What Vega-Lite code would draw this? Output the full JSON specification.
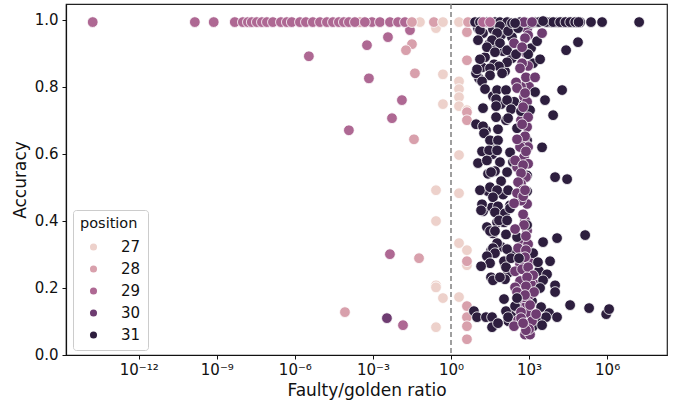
{"$schema":"https://vega.github.io/schema/vega-lite/v6.json","width":601,"height":351,"autosize":{"type":"none"},"padding":{"left":66,"top":4,"right":11,"bottom":47},"background":"white","config":{"view":{"stroke":"#222","strokeWidth":1.2},"font":"DejaVu Sans"},"layer":[{"data":{"name":"pts"},"mark":{"type":"point","filled":true,"opacity":1,"stroke":"white","strokeWidth":0.8,"clip":true},"encoding":{"x":{"field":"ratio","type":"quantitative","scale":{"type":"log","domain":[1.6e-15,2e8],"nice":false},"axis":{"title":"Faulty/golden ratio","titleFont":"DejaVu Sans","titleFontSize":17,"titleFontWeight":"normal","titleColor":"#111","titlePadding":5,"labelFont":"DejaVu Sans","labelFontSize":15,"labelColor":"#111","grid":false,"values":[1e-12,1e-9,1e-6,1e-3,1,1e3,1e6],"labelExpr":"{'-12':'10⁻¹²','-9':'10⁻⁹','-6':'10⁻⁶','-3':'10⁻³','0':'10⁰','3':'10³','6':'10⁶'}[''+round(log(datum.value)/LN10)]","tickColor":"#111","tickSize":4,"domainColor":"#111","domainWidth":1.2,"labelPadding":3}},"y":{"field":"accuracy","type":"quantitative","scale":{"domain":[-0.001,1.047],"nice":false,"zero":false},"axis":{"title":"Accuracy","titleFont":"DejaVu Sans","titleFontSize":17,"titleFontWeight":"normal","titleColor":"#111","titlePadding":5,"labelFont":"DejaVu Sans","labelFontSize":15,"labelColor":"#111","grid":false,"values":[0,0.2,0.4,0.6,0.8,1],"format":".1f","tickColor":"#111","tickSize":4,"domainColor":"#111","domainWidth":1.2,"labelPadding":4}},"color":{"field":"position","type":"ordinal","scale":{"domain":[27,28,29,30,31],"range":["#edd1cb","#d8a0ac","#ae6893","#6e3c71","#2d1e3e"]},"legend":{"title":"position","orient":"none","legendX":7,"legendY":206,"fillColor":"white","strokeColor":"#ccc","cornerRadius":3,"padding":7,"titleFont":"DejaVu Sans","titleFontSize":14.5,"titleFontWeight":"normal","titleColor":"#111","titlePadding":8,"labelFont":"DejaVu Sans","labelFontSize":15,"labelColor":"#111","symbolType":"circle","symbolSize":50,"symbolStrokeWidth":0,"symbolOpacity":1,"rowPadding":6,"labelOffset":20,"symbolOffset":6}},"size":{"value":115},"order":{"field":"draw","type":"quantitative"}}},{"data":{"values":[{"ratio":1}]},"mark":{"type":"rule","color":"#808080","strokeWidth":1.5,"strokeDash":[5,3]},"encoding":{"x":{"field":"ratio","type":"quantitative"}}}],"datasets":{"pts":[
{"ratio":0.265,"accuracy":0.975,"position":27,"draw":1},{"ratio":0.49,"accuracy":0.837,"position":27,"draw":1},{"ratio":2.03,"accuracy":0.816,"position":27,"draw":1},{"ratio":2.03,"accuracy":0.793,"position":27,"draw":1},{"ratio":2.03,"accuracy":0.769,"position":27,"draw":1},{"ratio":2.03,"accuracy":0.742,"position":27,"draw":1},{"ratio":0.49,"accuracy":0.748,"position":27,"draw":1},{"ratio":4.1,"accuracy":0.73,"position":27,"draw":1},{"ratio":2.03,"accuracy":0.596,"position":27,"draw":1},{"ratio":0.265,"accuracy":0.491,"position":27,"draw":1},{"ratio":2.03,"accuracy":0.482,"position":27,"draw":1},{"ratio":0.265,"accuracy":0.399,"position":27,"draw":1},{"ratio":2.03,"accuracy":0.333,"position":27,"draw":1},{"ratio":4.1,"accuracy":0.312,"position":27,"draw":1},{"ratio":4.1,"accuracy":0.267,"position":27,"draw":1},{"ratio":0.265,"accuracy":0.207,"position":27,"draw":1},{"ratio":0.265,"accuracy":0.201,"position":27,"draw":1},{"ratio":0.49,"accuracy":0.169,"position":27,"draw":1},{"ratio":2.03,"accuracy":0.172,"position":27,"draw":1},{"ratio":0.265,"accuracy":0.082,"position":27,"draw":1},
{"ratio":0.064,"accuracy":0.993,"position":27,"draw":1},{"ratio":0.49,"accuracy":0.993,"position":27,"draw":3},{"ratio":2.03,"accuracy":0.993,"position":27,"draw":3},
{"ratio":0.000316,"accuracy":0.993,"position":28,"draw":2},{"ratio":0.0316,"accuracy":0.993,"position":28,"draw":3},{"ratio":0.22,"accuracy":0.993,"position":28,"draw":2},{"ratio":4.5,"accuracy":0.993,"position":28,"draw":3},
{"ratio":0.0316,"accuracy":0.927,"position":28,"draw":2},{"ratio":0.0186,"accuracy":0.909,"position":28,"draw":2},{"ratio":0.041,"accuracy":0.84,"position":28,"draw":2},{"ratio":0.0378,"accuracy":0.643,"position":28,"draw":2},{"ratio":4.1,"accuracy":0.963,"position":28,"draw":2},{"ratio":4.1,"accuracy":0.879,"position":28,"draw":2},{"ratio":4.1,"accuracy":0.724,"position":28,"draw":2},{"ratio":4.1,"accuracy":0.7,"position":28,"draw":2},{"ratio":0.059,"accuracy":0.288,"position":28,"draw":2},{"ratio":4.1,"accuracy":0.279,"position":28,"draw":2},{"ratio":4.1,"accuracy":0.145,"position":28,"draw":2},{"ratio":4.1,"accuracy":0.112,"position":28,"draw":2},{"ratio":4.1,"accuracy":0.085,"position":28,"draw":2},{"ratio":4.1,"accuracy":0.046,"position":28,"draw":2},{"ratio":0.000084,"accuracy":0.127,"position":28,"draw":2},
{"ratio":1.7e-14,"accuracy":0.993,"position":29,"draw":2},{"ratio":1.43e-10,"accuracy":0.993,"position":29,"draw":2},{"ratio":7.6e-10,"accuracy":0.993,"position":29,"draw":2},{"ratio":4.9e-9,"accuracy":0.993,"position":29,"draw":2},{"ratio":1e-8,"accuracy":0.993,"position":29,"draw":2},{"ratio":1.56e-8,"accuracy":0.993,"position":29,"draw":2},{"ratio":2.2e-8,"accuracy":0.993,"position":29,"draw":2},{"ratio":3.45e-8,"accuracy":0.993,"position":29,"draw":2},{"ratio":5.4e-8,"accuracy":0.993,"position":29,"draw":2},{"ratio":8.4e-8,"accuracy":0.993,"position":29,"draw":2},{"ratio":1.43e-7,"accuracy":0.993,"position":29,"draw":2},{"ratio":2.9e-7,"accuracy":0.993,"position":29,"draw":2},{"ratio":4.9e-7,"accuracy":0.993,"position":29,"draw":2},{"ratio":7.6e-7,"accuracy":0.993,"position":29,"draw":2},{"ratio":1.56e-6,"accuracy":0.993,"position":29,"draw":2},{"ratio":2.65e-6,"accuracy":0.993,"position":29,"draw":2},{"ratio":4.9e-6,"accuracy":0.993,"position":29,"draw":2},{"ratio":9.2e-6,"accuracy":0.993,"position":29,"draw":2},{"ratio":1.7e-5,"accuracy":0.993,"position":29,"draw":2},{"ratio":2.9e-5,"accuracy":0.993,"position":29,"draw":2},{"ratio":4.9e-5,"accuracy":0.993,"position":29,"draw":2},{"ratio":7.6e-5,"accuracy":0.993,"position":29,"draw":2},{"ratio":0.000119,"accuracy":0.993,"position":29,"draw":2},{"ratio":0.000203,"accuracy":0.993,"position":29,"draw":2},{"ratio":0.00049,"accuracy":0.993,"position":29,"draw":3},{"ratio":0.00092,"accuracy":0.993,"position":29,"draw":2},{"ratio":0.00186,"accuracy":0.993,"position":29,"draw":2},{"ratio":0.0045,"accuracy":0.993,"position":29,"draw":2},{"ratio":0.0092,"accuracy":0.993,"position":29,"draw":2},{"ratio":0.017,"accuracy":0.993,"position":29,"draw":2},{"ratio":17,"accuracy":0.993,"position":29,"draw":6},{"ratio":31.6,"accuracy":0.993,"position":29,"draw":6},
{"ratio":3.45e-6,"accuracy":0.891,"position":29,"draw":2},{"ratio":0.000119,"accuracy":0.67,"position":29,"draw":2},{"ratio":0.00059,"accuracy":0.924,"position":29,"draw":2},{"ratio":0.0007,"accuracy":0.825,"position":29,"draw":2},{"ratio":0.00378,"accuracy":0.948,"position":29,"draw":2},{"ratio":0.013,"accuracy":0.76,"position":29,"draw":2},{"ratio":0.0054,"accuracy":0.706,"position":29,"draw":2},{"ratio":0.0045,"accuracy":0.3,"position":29,"draw":2},{"ratio":0.0143,"accuracy":0.088,"position":29,"draw":2},{"ratio":0.0265,"accuracy":0.969,"position":29,"draw":1},{"ratio":0.00345,"accuracy":0.109,"position":30,"draw":2},
{"ratio":8.4,"accuracy":0.993,"position":31,"draw":4},{"ratio":13,"accuracy":0.993,"position":31,"draw":4},{"ratio":24,"accuracy":0.993,"position":31,"draw":4},{"ratio":49,"accuracy":0.993,"position":31,"draw":4},{"ratio":76,"accuracy":0.993,"position":31,"draw":4},{"ratio":143,"accuracy":0.993,"position":31,"draw":4},{"ratio":290,"accuracy":0.99,"position":31,"draw":6},{"ratio":450,"accuracy":0.993,"position":31,"draw":4},{"ratio":700,"accuracy":0.993,"position":31,"draw":4},{"ratio":1700,"accuracy":0.993,"position":31,"draw":4},{"ratio":3450,"accuracy":0.996,"position":31,"draw":6},{"ratio":6400,"accuracy":0.993,"position":31,"draw":4},{"ratio":11900,"accuracy":0.993,"position":31,"draw":4},{"ratio":18600,"accuracy":0.993,"position":31,"draw":4},{"ratio":31600,"accuracy":0.993,"position":31,"draw":4},{"ratio":45000,"accuracy":0.993,"position":31,"draw":4},{"ratio":70000,"accuracy":0.993,"position":31,"draw":4},{"ratio":92000,"accuracy":0.993,"position":31,"draw":4},{"ratio":240000,"accuracy":0.993,"position":31,"draw":4},{"ratio":640000,"accuracy":0.993,"position":31,"draw":4},{"ratio":17000000,"accuracy":0.993,"position":31,"draw":4},
{"ratio":76,"accuracy":0.981,"position":31,"draw":4},{"ratio":13,"accuracy":0.969,"position":31,"draw":4},{"ratio":156,"accuracy":0.966,"position":31,"draw":4},{"ratio":378,"accuracy":0.975,"position":31,"draw":4},{"ratio":59,"accuracy":0.96,"position":31,"draw":4},{"ratio":10.9,"accuracy":0.939,"position":31,"draw":4},{"ratio":37.8,"accuracy":0.939,"position":31,"draw":4},{"ratio":24,"accuracy":0.918,"position":31,"draw":4},{"ratio":76,"accuracy":0.93,"position":31,"draw":4},{"ratio":2030,"accuracy":0.936,"position":31,"draw":4},{"ratio":143,"accuracy":0.909,"position":31,"draw":4},{"ratio":49,"accuracy":0.903,"position":31,"draw":4},{"ratio":316,"accuracy":0.897,"position":31,"draw":4},{"ratio":920,"accuracy":0.897,"position":31,"draw":4},{"ratio":26500,"accuracy":0.909,"position":31,"draw":4},{"ratio":76000,"accuracy":0.933,"position":31,"draw":4},{"ratio":2650,"accuracy":0.882,"position":31,"draw":4},{"ratio":13,"accuracy":0.882,"position":31,"draw":4},{"ratio":143,"accuracy":0.873,"position":31,"draw":4},{"ratio":70,"accuracy":0.861,"position":31,"draw":4},{"ratio":31.6,"accuracy":0.855,"position":31,"draw":4},{"ratio":9.2,"accuracy":0.84,"position":31,"draw":4},{"ratio":92,"accuracy":0.84,"position":31,"draw":4},{"ratio":31.6,"accuracy":0.834,"position":31,"draw":4},{"ratio":10,"accuracy":0.852,"position":31,"draw":4},{"ratio":15.6,"accuracy":0.816,"position":31,"draw":4},{"ratio":20.3,"accuracy":0.793,"position":31,"draw":4},{"ratio":59,"accuracy":0.79,"position":31,"draw":4},{"ratio":130,"accuracy":0.79,"position":31,"draw":4},{"ratio":1700,"accuracy":0.784,"position":31,"draw":4},{"ratio":18600,"accuracy":0.79,"position":31,"draw":4},{"ratio":4100,"accuracy":0.76,"position":31,"draw":4},{"ratio":54,"accuracy":0.763,"position":31,"draw":4},{"ratio":143,"accuracy":0.76,"position":31,"draw":4},{"ratio":54,"accuracy":0.742,"position":31,"draw":4},{"ratio":17,"accuracy":0.736,"position":31,"draw":4},{"ratio":203,"accuracy":0.733,"position":31,"draw":4},{"ratio":490,"accuracy":0.727,"position":31,"draw":4},{"ratio":1090,"accuracy":0.73,"position":31,"draw":4},{"ratio":8400,"accuracy":0.715,"position":31,"draw":4},{"ratio":54,"accuracy":0.709,"position":31,"draw":4},{"ratio":156,"accuracy":0.706,"position":31,"draw":4},{"ratio":9.2,"accuracy":0.688,"position":31,"draw":4},{"ratio":17,"accuracy":0.682,"position":31,"draw":4},{"ratio":64,"accuracy":0.673,"position":31,"draw":4},{"ratio":18.6,"accuracy":0.661,"position":31,"draw":4},{"ratio":345,"accuracy":0.676,"position":31,"draw":4},{"ratio":31.6,"accuracy":0.64,"position":31,"draw":4},{"ratio":64,"accuracy":0.64,"position":31,"draw":4},{"ratio":15.6,"accuracy":0.607,"position":31,"draw":4},{"ratio":29,"accuracy":0.61,"position":31,"draw":4},{"ratio":59,"accuracy":0.61,"position":31,"draw":4},{"ratio":186,"accuracy":0.604,"position":31,"draw":4},{"ratio":3160,"accuracy":0.619,"position":31,"draw":4},{"ratio":10.9,"accuracy":0.572,"position":31,"draw":4},{"ratio":24,"accuracy":0.58,"position":31,"draw":4},{"ratio":76,"accuracy":0.575,"position":31,"draw":4},{"ratio":49,"accuracy":0.548,"position":31,"draw":4},{"ratio":34.5,"accuracy":0.545,"position":31,"draw":4},{"ratio":143,"accuracy":0.545,"position":31,"draw":4},{"ratio":10000,"accuracy":0.53,"position":31,"draw":4},{"ratio":29000,"accuracy":0.524,"position":31,"draw":4},{"ratio":84,"accuracy":0.518,"position":31,"draw":4},{"ratio":13,"accuracy":0.491,"position":31,"draw":4},{"ratio":31.6,"accuracy":0.5,"position":31,"draw":4},{"ratio":59,"accuracy":0.491,"position":31,"draw":4},{"ratio":156,"accuracy":0.491,"position":31,"draw":4},{"ratio":41,"accuracy":0.47,"position":31,"draw":4},{"ratio":15.6,"accuracy":0.449,"position":31,"draw":4},{"ratio":14.3,"accuracy":0.431,"position":31,"draw":4},{"ratio":64,"accuracy":0.443,"position":31,"draw":4},{"ratio":49,"accuracy":0.425,"position":31,"draw":4},{"ratio":186,"accuracy":0.446,"position":31,"draw":4},{"ratio":119,"accuracy":0.422,"position":31,"draw":4},{"ratio":186,"accuracy":0.437,"position":31,"draw":4},{"ratio":70,"accuracy":0.401,"position":31,"draw":4},{"ratio":143,"accuracy":0.401,"position":31,"draw":4},{"ratio":24,"accuracy":0.381,"position":31,"draw":4},{"ratio":31.6,"accuracy":0.369,"position":31,"draw":4},{"ratio":49,"accuracy":0.369,"position":31,"draw":4},{"ratio":130,"accuracy":0.359,"position":31,"draw":4},{"ratio":345,"accuracy":0.351,"position":31,"draw":4},{"ratio":840,"accuracy":0.387,"position":31,"draw":4},{"ratio":3450,"accuracy":0.336,"position":31,"draw":4},{"ratio":11900,"accuracy":0.348,"position":31,"draw":4},{"ratio":143000,"accuracy":0.357,"position":31,"draw":4},{"ratio":59,"accuracy":0.333,"position":31,"draw":4},{"ratio":41,"accuracy":0.318,"position":31,"draw":4},{"ratio":143,"accuracy":0.315,"position":31,"draw":4},{"ratio":49,"accuracy":0.303,"position":31,"draw":4},{"ratio":24,"accuracy":0.294,"position":31,"draw":4},{"ratio":1430,"accuracy":0.303,"position":31,"draw":4},{"ratio":31.6,"accuracy":0.273,"position":31,"draw":4},{"ratio":109,"accuracy":0.279,"position":31,"draw":4},{"ratio":203,"accuracy":0.288,"position":31,"draw":6},{"ratio":410,"accuracy":0.288,"position":31,"draw":6},{"ratio":2200,"accuracy":0.276,"position":31,"draw":4},{"ratio":6400,"accuracy":0.279,"position":31,"draw":4},{"ratio":14.3,"accuracy":0.264,"position":31,"draw":4},{"ratio":130,"accuracy":0.261,"position":31,"draw":4},{"ratio":34.5,"accuracy":0.231,"position":31,"draw":4},{"ratio":41,"accuracy":0.222,"position":31,"draw":4},{"ratio":119,"accuracy":0.225,"position":31,"draw":4},{"ratio":76,"accuracy":0.231,"position":31,"draw":4},{"ratio":4900,"accuracy":0.24,"position":31,"draw":4},{"ratio":3450,"accuracy":0.222,"position":31,"draw":4},{"ratio":2650,"accuracy":0.199,"position":31,"draw":4},{"ratio":10000,"accuracy":0.207,"position":31,"draw":4},{"ratio":10000,"accuracy":0.187,"position":31,"draw":4},{"ratio":109,"accuracy":0.166,"position":31,"draw":4},{"ratio":345,"accuracy":0.169,"position":31,"draw":6},{"ratio":7.6,"accuracy":0.13,"position":31,"draw":4},{"ratio":10,"accuracy":0.112,"position":31,"draw":4},{"ratio":22,"accuracy":0.112,"position":31,"draw":4},{"ratio":37.8,"accuracy":0.112,"position":31,"draw":4},{"ratio":37.8,"accuracy":0.082,"position":31,"draw":4},{"ratio":64,"accuracy":0.094,"position":31,"draw":4},{"ratio":130,"accuracy":0.13,"position":31,"draw":4},{"ratio":156,"accuracy":0.112,"position":31,"draw":4},{"ratio":290,"accuracy":0.145,"position":31,"draw":4},{"ratio":2900,"accuracy":0.142,"position":31,"draw":4},{"ratio":5900,"accuracy":0.124,"position":31,"draw":4},{"ratio":4500,"accuracy":0.112,"position":31,"draw":4},{"ratio":11900,"accuracy":0.112,"position":31,"draw":4},{"ratio":3160,"accuracy":0.088,"position":31,"draw":6},{"ratio":37800,"accuracy":0.148,"position":31,"draw":4},{"ratio":203000,"accuracy":0.139,"position":31,"draw":4},{"ratio":920000,"accuracy":0.121,"position":31,"draw":4},{"ratio":1190000,"accuracy":0.136,"position":31,"draw":4},
{"ratio":10.9,"accuracy":0.975,"position":31,"draw":3.5},{"ratio":17,"accuracy":0.96,"position":31,"draw":3.5},{"ratio":41,"accuracy":0.972,"position":31,"draw":3.5},{"ratio":84,"accuracy":0.954,"position":31,"draw":3.5},{"ratio":220,"accuracy":0.948,"position":31,"draw":3.5},{"ratio":29,"accuracy":0.927,"position":31,"draw":3.5},{"ratio":45,"accuracy":0.915,"position":31,"draw":3.5},{"ratio":100,"accuracy":0.906,"position":31,"draw":3.5},{"ratio":20.3,"accuracy":0.888,"position":31,"draw":3.5},{"ratio":220,"accuracy":0.885,"position":31,"draw":3.5},{"ratio":1190,"accuracy":0.915,"position":31,"draw":3.5},{"ratio":1430,"accuracy":0.87,"position":31,"draw":3.5},{"ratio":45,"accuracy":0.867,"position":31,"draw":3.5},{"ratio":15.6,"accuracy":0.858,"position":31,"draw":3.5},{"ratio":119,"accuracy":0.846,"position":31,"draw":3.5},{"ratio":11.9,"accuracy":0.825,"position":31,"draw":3.5},{"ratio":840,"accuracy":0.8,"position":31,"draw":3.5},{"ratio":41,"accuracy":0.772,"position":31,"draw":3.5},{"ratio":84,"accuracy":0.748,"position":31,"draw":3.5},{"ratio":270,"accuracy":0.755,"position":31,"draw":3.5},{"ratio":640,"accuracy":0.748,"position":31,"draw":3.5},{"ratio":130,"accuracy":0.7,"position":31,"draw":3.5},{"ratio":22,"accuracy":0.67,"position":31,"draw":3.5},{"ratio":41,"accuracy":0.63,"position":31,"draw":3.5},{"ratio":840,"accuracy":0.64,"position":31,"draw":3.5},{"ratio":45,"accuracy":0.61,"position":31,"draw":3.5},{"ratio":37.8,"accuracy":0.598,"position":31,"draw":3.5},{"ratio":240,"accuracy":0.575,"position":31,"draw":3.5},{"ratio":26.5,"accuracy":0.54,"position":31,"draw":3.5},{"ratio":840,"accuracy":0.535,"position":31,"draw":3.5},{"ratio":26.5,"accuracy":0.488,"position":31,"draw":3.5},{"ratio":100,"accuracy":0.478,"position":31,"draw":3.5},{"ratio":840,"accuracy":0.488,"position":31,"draw":3.5},{"ratio":17,"accuracy":0.428,"position":31,"draw":3.5},{"ratio":37.8,"accuracy":0.44,"position":31,"draw":3.5},{"ratio":100,"accuracy":0.41,"position":31,"draw":3.5},{"ratio":59,"accuracy":0.395,"position":31,"draw":3.5},{"ratio":109,"accuracy":0.395,"position":31,"draw":3.5},{"ratio":41,"accuracy":0.362,"position":31,"draw":3.5},{"ratio":84,"accuracy":0.322,"position":31,"draw":3.5},{"ratio":34.5,"accuracy":0.31,"position":31,"draw":3.5},{"ratio":200,"accuracy":0.3,"position":31,"draw":3.5},{"ratio":119,"accuracy":0.27,"position":31,"draw":3.5},{"ratio":1090,"accuracy":0.3,"position":31,"draw":3.5},{"ratio":45,"accuracy":0.225,"position":31,"draw":3.5},{"ratio":160,"accuracy":0.245,"position":31,"draw":3.5},{"ratio":2400,"accuracy":0.25,"position":31,"draw":3.5},{"ratio":1300,"accuracy":0.16,"position":31,"draw":3.5},{"ratio":160,"accuracy":0.1,"position":31,"draw":3.5},{"ratio":220,"accuracy":0.125,"position":31,"draw":3.5},{"ratio":2030,"accuracy":0.1,"position":31,"draw":3.5},{"ratio":1430,"accuracy":0.085,"position":31,"draw":3.5},{"ratio":45,"accuracy":0.088,"position":31,"draw":3.5},
{"ratio":1190,"accuracy":0.99,"position":31,"draw":4},{"ratio":220,"accuracy":0.99,"position":31,"draw":4},{"ratio":2400,"accuracy":0.993,"position":31,"draw":4},{"ratio":4500,"accuracy":0.993,"position":31,"draw":4},{"ratio":8400,"accuracy":0.993,"position":31,"draw":4},{"ratio":15600,"accuracy":0.993,"position":31,"draw":4},{"ratio":25000,"accuracy":0.993,"position":31,"draw":4},{"ratio":38000,"accuracy":0.993,"position":31,"draw":4},{"ratio":59000,"accuracy":0.993,"position":31,"draw":4},{"ratio":80000,"accuracy":0.993,"position":31,"draw":4},
{"ratio":640,"accuracy":0.993,"position":30,"draw":5},{"ratio":1300,"accuracy":0.993,"position":30,"draw":5},{"ratio":3160,"accuracy":0.96,"position":30,"draw":5},{"ratio":920,"accuracy":0.954,"position":30,"draw":5},{"ratio":265,"accuracy":0.93,"position":30,"draw":5},{"ratio":700,"accuracy":0.945,"position":30,"draw":5},{"ratio":540,"accuracy":0.918,"position":30,"draw":5},{"ratio":540,"accuracy":0.87,"position":30,"draw":5},{"ratio":450,"accuracy":0.855,"position":30,"draw":5},{"ratio":760,"accuracy":0.828,"position":30,"draw":5},{"ratio":1700,"accuracy":0.828,"position":30,"draw":5},{"ratio":316,"accuracy":0.813,"position":30,"draw":5},{"ratio":345,"accuracy":0.796,"position":30,"draw":5},{"ratio":700,"accuracy":0.781,"position":30,"draw":5},{"ratio":590,"accuracy":0.739,"position":30,"draw":5},{"ratio":920,"accuracy":0.709,"position":30,"draw":5},{"ratio":540,"accuracy":0.688,"position":30,"draw":5},{"ratio":700,"accuracy":0.652,"position":30,"draw":5},{"ratio":345,"accuracy":0.643,"position":30,"draw":5},{"ratio":760,"accuracy":0.607,"position":30,"draw":5},{"ratio":290,"accuracy":0.58,"position":30,"draw":5},{"ratio":590,"accuracy":0.566,"position":30,"draw":5},{"ratio":490,"accuracy":0.542,"position":30,"draw":5},{"ratio":378,"accuracy":0.515,"position":30,"draw":5},{"ratio":590,"accuracy":0.491,"position":30,"draw":5},{"ratio":345,"accuracy":0.482,"position":30,"draw":5},{"ratio":590,"accuracy":0.473,"position":30,"draw":5},{"ratio":700,"accuracy":0.491,"position":30,"draw":5},{"ratio":265,"accuracy":0.452,"position":30,"draw":5},{"ratio":590,"accuracy":0.419,"position":30,"draw":5},{"ratio":640,"accuracy":0.387,"position":30,"draw":5},{"ratio":290,"accuracy":0.375,"position":30,"draw":5},{"ratio":760,"accuracy":0.354,"position":30,"draw":5},{"ratio":378,"accuracy":0.318,"position":30,"draw":5},{"ratio":760,"accuracy":0.312,"position":30,"draw":5},{"ratio":700,"accuracy":0.291,"position":30,"draw":5},{"ratio":290,"accuracy":0.249,"position":30,"draw":5},{"ratio":540,"accuracy":0.255,"position":30,"draw":5},{"ratio":920,"accuracy":0.261,"position":30,"draw":5},{"ratio":1430,"accuracy":0.237,"position":30,"draw":5},{"ratio":840,"accuracy":0.231,"position":30,"draw":5},{"ratio":290,"accuracy":0.201,"position":30,"draw":5},{"ratio":760,"accuracy":0.204,"position":30,"draw":5},{"ratio":1560,"accuracy":0.187,"position":30,"draw":5},{"ratio":345,"accuracy":0.187,"position":30,"draw":5},{"ratio":700,"accuracy":0.178,"position":30,"draw":5},{"ratio":1090,"accuracy":0.148,"position":30,"draw":5},{"ratio":490,"accuracy":0.127,"position":30,"draw":5},{"ratio":1860,"accuracy":0.121,"position":30,"draw":5},{"ratio":378,"accuracy":0.103,"position":30,"draw":5},{"ratio":265,"accuracy":0.085,"position":30,"draw":5},{"ratio":490,"accuracy":0.109,"position":30,"draw":5},{"ratio":1000,"accuracy":0.076,"position":30,"draw":5},{"ratio":760,"accuracy":0.073,"position":30,"draw":5},{"ratio":590,"accuracy":0.094,"position":30,"draw":5},
{"ratio":840,"accuracy":0.972,"position":30,"draw":3.8},{"ratio":760,"accuracy":0.9,"position":30,"draw":3.8},{"ratio":920,"accuracy":0.862,"position":30,"draw":3.8},{"ratio":1000,"accuracy":0.8,"position":30,"draw":3.8},{"ratio":640,"accuracy":0.77,"position":30,"draw":3.8},{"ratio":490,"accuracy":0.8,"position":30,"draw":3.8},{"ratio":840,"accuracy":0.755,"position":30,"draw":3.8},{"ratio":590,"accuracy":0.715,"position":30,"draw":3.8},{"ratio":490,"accuracy":0.7,"position":30,"draw":3.8},{"ratio":840,"accuracy":0.68,"position":30,"draw":3.8},{"ratio":700,"accuracy":0.63,"position":30,"draw":3.8},{"ratio":920,"accuracy":0.62,"position":30,"draw":3.8},{"ratio":450,"accuracy":0.62,"position":30,"draw":3.8},{"ratio":640,"accuracy":0.59,"position":30,"draw":3.8},{"ratio":920,"accuracy":0.57,"position":30,"draw":3.8},{"ratio":345,"accuracy":0.56,"position":30,"draw":3.8},{"ratio":760,"accuracy":0.53,"position":30,"draw":3.8},{"ratio":490,"accuracy":0.51,"position":30,"draw":3.8},{"ratio":840,"accuracy":0.45,"position":30,"draw":3.8},{"ratio":490,"accuracy":0.46,"position":30,"draw":3.8},{"ratio":700,"accuracy":0.4,"position":30,"draw":3.8},{"ratio":840,"accuracy":0.37,"position":30,"draw":3.8},{"ratio":590,"accuracy":0.34,"position":30,"draw":3.8},{"ratio":490,"accuracy":0.345,"position":30,"draw":3.8},{"ratio":920,"accuracy":0.33,"position":30,"draw":3.8},{"ratio":640,"accuracy":0.28,"position":30,"draw":3.8},{"ratio":450,"accuracy":0.27,"position":30,"draw":3.8},{"ratio":1190,"accuracy":0.28,"position":30,"draw":3.8},{"ratio":1700,"accuracy":0.21,"position":30,"draw":3.8},{"ratio":1190,"accuracy":0.21,"position":30,"draw":3.8},{"ratio":450,"accuracy":0.22,"position":30,"draw":3.8},{"ratio":1090,"accuracy":0.18,"position":30,"draw":3.8},{"ratio":490,"accuracy":0.165,"position":30,"draw":3.8},{"ratio":840,"accuracy":0.155,"position":30,"draw":3.8},{"ratio":640,"accuracy":0.14,"position":30,"draw":3.8},{"ratio":920,"accuracy":0.125,"position":30,"draw":3.8},{"ratio":345,"accuracy":0.14,"position":30,"draw":3.8},{"ratio":1300,"accuracy":0.1,"position":30,"draw":3.8},{"ratio":700,"accuracy":0.06,"position":30,"draw":3.8},{"ratio":1090,"accuracy":0.06,"position":30,"draw":3.8}
]}}
